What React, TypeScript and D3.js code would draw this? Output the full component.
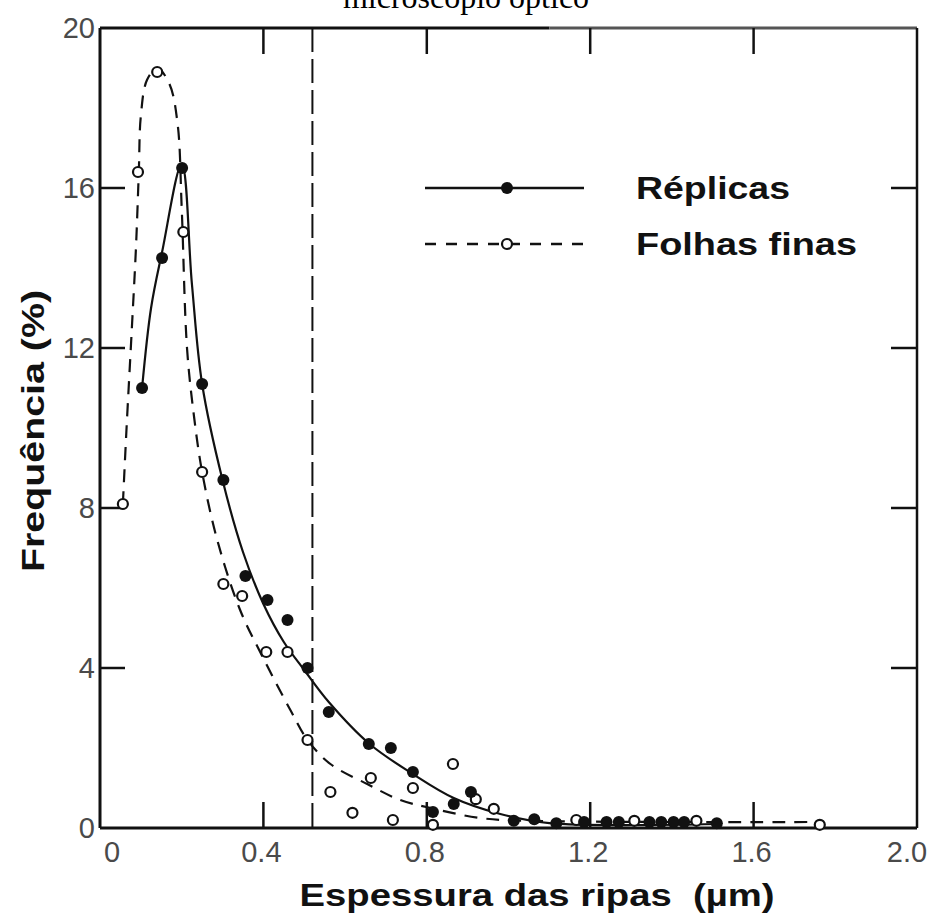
import React from 'react';
import * as d3 from 'd3';

const W = 933;
const H = 921;

// measured points, Réplicas (filled dots)
const replicasX = [0.103, 0.152, 0.201, 0.25, 0.302, 0.356, 0.41, 0.459, 0.508, 0.56, 0.658, 0.712, 0.766, 0.815, 0.866, 0.908, 1.013, 1.063, 1.117, 1.185, 1.24, 1.27, 1.345, 1.374, 1.404, 1.43, 1.51];
const replicasY = [11.0, 14.25, 16.5, 11.1, 8.7, 6.3, 5.7, 5.2, 4.0, 2.9, 2.1, 2.0, 1.4, 0.4, 0.6, 0.9, 0.18, 0.22, 0.12, 0.15, 0.15, 0.15, 0.15, 0.15, 0.15, 0.15, 0.12];

// measured points, Folhas finas (open circles)
const folhasX = [0.056, 0.093, 0.14, 0.204, 0.25, 0.302, 0.348, 0.407, 0.459, 0.508, 0.564, 0.618, 0.663, 0.717, 0.766, 0.815, 0.864, 0.92, 0.964, 1.166, 1.308, 1.46, 1.762];
const folhasY = [8.1, 16.4, 18.9, 14.9, 8.9, 6.1, 5.8, 4.4, 4.4, 2.2, 0.9, 0.38, 1.25, 0.2, 1.0, 0.08, 1.6, 0.72, 0.48, 0.2, 0.18, 0.18, 0.08];

// hand-drawn fitted curves
const replicasCurveX = [0.103, 0.125, 0.152, 0.2, 0.225, 0.25, 0.3, 0.35, 0.4, 0.45, 0.5, 0.56, 0.66, 0.766, 0.866, 0.98, 1.1, 1.52];
const replicasCurveY = [11.0, 13.0, 14.4, 16.6, 13.6, 11.1, 8.7, 6.9, 5.6, 4.65, 3.95, 3.15, 2.1, 1.35, 0.75, 0.35, 0.12, 0.1];
const folhasCurveX = [0.056, 0.065, 0.078, 0.088, 0.095, 0.1, 0.115, 0.14, 0.17, 0.19, 0.2, 0.213, 0.23, 0.25, 0.287, 0.343, 0.397, 0.466, 0.508, 0.564, 0.654, 0.735, 0.81, 0.93, 1.05, 1.76];
const folhasCurveY = [8.1, 10.0, 12.5, 14.5, 16.4, 17.8, 18.7, 19.0, 18.6, 17.6, 15.5, 12.0, 10.3, 8.9, 7.2, 5.45, 4.3, 2.95, 2.2, 1.6, 1.1, 0.7, 0.5, 0.25, 0.18, 0.15];

const xTicks = [0.4, 0.8, 1.2, 1.6];
const yTicks = [4, 8, 12, 16];
const xLabels = ['0', '0.4', '0.8', '1.2', '1.6', '2.0'];
const yLabels = ['0', '4', '8', '12', '16', '20'];
const cutoff = 0.52;

const ink = '#111';

export default function App() {
  const x = d3.scaleLinear().domain([0, 2]).range([100, 917]);
  const y = d3.scaleLinear().domain([0, 20]).range([828, 28]);

  const path = (xs: number[], ys: number[]) =>
    d3.line<number>()
      .x(d => x(xs[d]))
      .y(d => y(ys[d]))
      .curve(d3.curveCatmullRom.alpha(0.5))(d3.range(xs.length));

  const tickFont = { fontFamily: '"Liberation Sans", Arial, sans-serif', fontSize: 29, fill: '#4a4a4a' };
  const boldFont = { fontFamily: '"Liberation Sans", Arial, sans-serif', fontWeight: 700, fontSize: 32, fill: ink };

  return (
    <svg width={W} height={H} style={{ position: 'absolute', left: 0, top: 0 }}>
      <rect width={W} height={H} fill="#fff" />

      <text x={466} y={8} textAnchor="middle" style={{ fontFamily: '"Liberation Serif", "Times New Roman", serif', fontSize: 32, fill: '#000' }}>
        microscópio óptico
      </text>

      {/* frame */}
      <line x1={x(0)} x2={x(0)} y1={y(20)} y2={y(0)} stroke={ink} strokeWidth={3} />
      <line x1={x(0)} x2={x(2)} y1={y(0)} y2={y(0)} stroke={ink} strokeWidth={3} />
      <line x1={x(0)} x2={x(1.1)} y1={y(20)} y2={y(20)} stroke={ink} strokeWidth={3} />
      <line x1={x(1.1)} x2={x(2)} y1={y(20)} y2={y(20)} stroke="#555" strokeWidth={3} />
      <line x1={x(2)} x2={x(2)} y1={y(20)} y2={y(0)} stroke={ink} strokeWidth={2.5} />

      {/* inward ticks */}
      {xTicks.map(t => (
        <g key={'xt' + t}>
          <line x1={x(t)} x2={x(t)} y1={y(20)} y2={y(20) + 26} stroke={ink} strokeWidth={2.5} />
          <line x1={x(t)} x2={x(t)} y1={y(0)} y2={y(0) - 26} stroke={ink} strokeWidth={2.5} />
        </g>
      ))}
      {yTicks.map(t => (
        <g key={'yt' + t}>
          <line x1={x(0)} x2={x(0) + 25} y1={y(t)} y2={y(t)} stroke={ink} strokeWidth={2.5} />
          <line x1={x(2)} x2={x(2) - 26} y1={y(t)} y2={y(t)} stroke={ink} strokeWidth={2.5} />
        </g>
      ))}

      {/* tick labels */}
      {yLabels.map((l, i) => (
        <text key={'yl' + l} x={x(0) - 5} y={y(i * 4) + 10} textAnchor="end" style={tickFont}>{l}</text>
      ))}
      {xLabels.map((l, i) => (
        <text key={'xl' + l} x={i === 0 ? x(0) + 12 : x(i * 0.4) - (i === 5 ? 10 : 2)} y={y(0) + 34} textAnchor="middle" style={tickFont}>{l}</text>
      ))}

      {/* axis titles */}
      <text transform={`translate(44, 431) rotate(-90)`} textAnchor="middle" textLength={282} lengthAdjust="spacingAndGlyphs" style={boldFont}>
        Frequência (%)
      </text>
      <text x={537} y={906} textAnchor="middle" textLength={475} lengthAdjust="spacingAndGlyphs" style={{ ...boldFont, whiteSpace: 'pre' }}>
        {'Espessura das ripas  (µm)'}
      </text>

      {/* vertical cut line */}
      <line x1={x(cutoff)} x2={x(cutoff)} y1={y(20)} y2={y(0)} stroke={ink} strokeWidth={2} strokeDasharray="24 7" />

      {/* curves */}
      <path d={path(folhasCurveX, folhasCurveY) || ''} fill="none" stroke={ink} strokeWidth={2.2} strokeDasharray="13 9" />
      <path d={path(replicasCurveX, replicasCurveY) || ''} fill="none" stroke={ink} strokeWidth={2.2} />

      {/* markers */}
      {folhasX.map((v, i) => (
        <circle key={'f' + i} cx={x(v)} cy={y(folhasY[i])} r={5} fill="#fff" stroke={ink} strokeWidth={2.2} />
      ))}
      {replicasX.map((v, i) => (
        <circle key={'r' + i} cx={x(v)} cy={y(replicasY[i])} r={6} fill={ink} />
      ))}

      {/* legend */}
      <line x1={425} x2={584} y1={188} y2={188} stroke={ink} strokeWidth={2.5} />
      <circle cx={507} cy={188} r={6} fill={ink} />
      <text x={636} y={199} textLength={154} lengthAdjust="spacingAndGlyphs" style={boldFont}>Réplicas</text>
      <line x1={425} x2={584} y1={244} y2={244} stroke={ink} strokeWidth={2.5} strokeDasharray="11 10" />
      <circle cx={507} cy={244} r={5} fill="#fff" stroke={ink} strokeWidth={2.2} />
      <text x={636} y={255} textLength={221} lengthAdjust="spacingAndGlyphs" style={boldFont}>Folhas finas</text>
    </svg>
  );
}
